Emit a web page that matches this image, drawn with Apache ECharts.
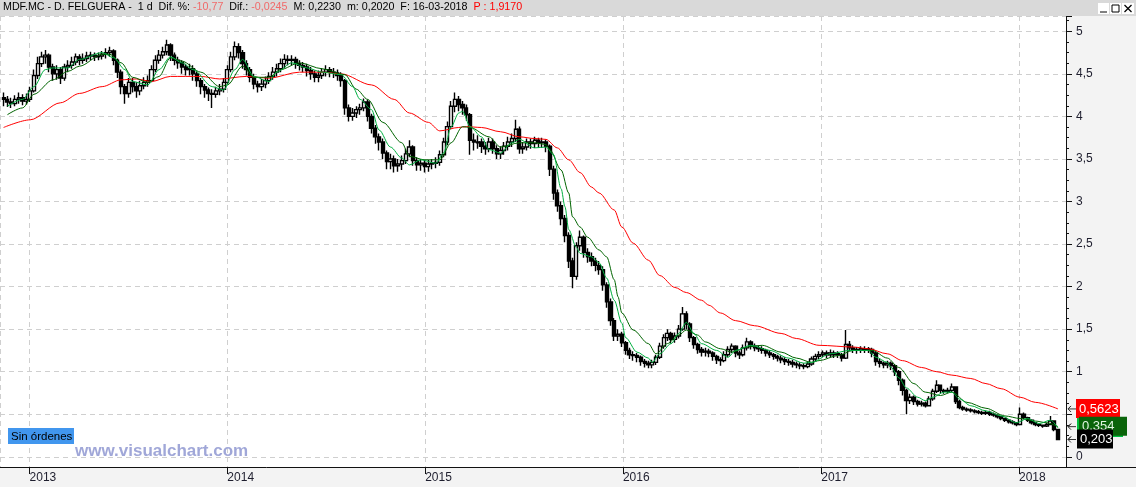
<!DOCTYPE html>
<html><head><meta charset="utf-8">
<script src="https://cdn.jsdelivr.net/npm/echarts@6/dist/echarts.min.js"></script>
<style>html,body{margin:0;padding:0;background:#f3f3f3}#c{width:1136px;height:487px}</style>
</head><body><div id="c"></div>
<script>
// weekly candles [open, close, low, high]; first week centred on 2012-11-14
const firstWeek = [2012, 10, 14];
const w2012 = [[4.22,4.20,4.12,4.28],[4.20,4.17,4.11,4.24],[4.17,4.15,4.10,4.22],[4.15,4.20,4.12,4.25],[4.20,4.22,4.15,4.28],[4.22,4.18,4.13,4.26],[4.18,4.20,4.14,4.27],[4.20,4.30,4.17,4.35]];
const w2013 = [[4.30,4.48,4.28,4.55],[4.48,4.62,4.44,4.70],[4.62,4.70,4.58,4.76],[4.70,4.72,4.62,4.78],[4.72,4.58,4.52,4.74],[4.58,4.50,4.42,4.62],[4.50,4.55,4.43,4.60],[4.55,4.45,4.38,4.58],[4.45,4.58,4.42,4.62],[4.58,4.60,4.52,4.66],[4.60,4.64,4.56,4.70],[4.64,4.70,4.60,4.74],[4.70,4.66,4.60,4.73],[4.66,4.68,4.62,4.74],[4.68,4.71,4.64,4.76],[4.71,4.72,4.66,4.76],[4.72,4.70,4.65,4.75],[4.70,4.71,4.66,4.75],[4.71,4.73,4.67,4.77],[4.73,4.75,4.68,4.80],[4.75,4.77,4.70,4.82],[4.77,4.66,4.60,4.79],[4.66,4.52,4.45,4.68],[4.52,4.35,4.26,4.55],[4.35,4.27,4.15,4.38],[4.27,4.40,4.22,4.45],[4.40,4.35,4.28,4.45],[4.35,4.30,4.22,4.40],[4.30,4.36,4.25,4.42],[4.36,4.40,4.32,4.46],[4.40,4.42,4.35,4.48],[4.42,4.55,4.40,4.60],[4.55,4.66,4.52,4.72],[4.66,4.72,4.62,4.78],[4.72,4.76,4.68,4.82],[4.76,4.84,4.72,4.90],[4.84,4.72,4.65,4.86],[4.72,4.66,4.60,4.75],[4.66,4.63,4.56,4.70],[4.63,4.58,4.50,4.66],[4.58,4.55,4.48,4.62],[4.55,4.56,4.48,4.62],[4.56,4.50,4.42,4.60],[4.50,4.42,4.35,4.53],[4.42,4.35,4.26,4.45],[4.35,4.31,4.22,4.38],[4.31,4.27,4.18,4.34],[4.27,4.26,4.10,4.32],[4.26,4.30,4.22,4.35],[4.30,4.32,4.25,4.38],[4.32,4.40,4.28,4.45],[4.40,4.55,4.38,4.60]];
const w2014 = [[4.55,4.70,4.52,4.76],[4.70,4.82,4.66,4.88],[4.82,4.75,4.68,4.86],[4.75,4.62,4.56,4.78],[4.62,4.55,4.48,4.66],[4.55,4.46,4.40,4.58],[4.46,4.38,4.32,4.50],[4.38,4.35,4.28,4.42],[4.35,4.38,4.30,4.44],[4.38,4.42,4.33,4.47],[4.42,4.47,4.38,4.52],[4.47,4.52,4.43,4.58],[4.52,4.56,4.47,4.62],[4.56,4.62,4.52,4.68],[4.62,4.67,4.57,4.73],[4.67,4.66,4.60,4.72],[4.66,4.67,4.60,4.72],[4.67,4.62,4.56,4.70],[4.62,4.60,4.54,4.66],[4.60,4.58,4.52,4.64],[4.58,4.54,4.47,4.62],[4.54,4.50,4.43,4.58],[4.50,4.46,4.40,4.54],[4.46,4.48,4.40,4.54],[4.48,4.52,4.44,4.57],[4.52,4.55,4.47,4.60],[4.55,4.52,4.46,4.58],[4.52,4.51,4.45,4.57],[4.51,4.48,4.42,4.55],[4.48,4.42,4.35,4.52],[4.42,4.10,4.02,4.44],[4.10,4.00,3.94,4.14],[4.00,4.04,3.95,4.10],[4.04,4.08,3.98,4.12],[4.08,4.10,4.02,4.15],[4.10,4.17,4.06,4.21],[4.17,4.00,3.94,4.20],[4.00,3.86,3.80,4.03],[3.86,3.76,3.68,3.90],[3.76,3.70,3.60,3.80],[3.70,3.57,3.50,3.74],[3.57,3.47,3.38,3.60],[3.47,3.50,3.38,3.56],[3.50,3.42,3.34,3.54],[3.42,3.44,3.35,3.50],[3.44,3.48,3.37,3.54],[3.48,3.56,3.44,3.62],[3.56,3.64,3.52,3.72],[3.64,3.48,3.42,3.66],[3.48,3.43,3.36,3.52],[3.43,3.45,3.36,3.50],[3.45,3.41,3.34,3.49]];
const w2015 = [[3.41,3.44,3.35,3.49],[3.44,3.45,3.38,3.50],[3.45,3.46,3.39,3.52],[3.46,3.55,3.42,3.60],[3.55,3.70,3.52,3.75],[3.70,3.88,3.66,3.94],[3.88,4.12,3.85,4.18],[4.12,4.20,4.05,4.28],[4.20,4.14,4.06,4.24],[4.14,4.10,4.02,4.18],[4.10,4.02,3.95,4.14],[4.02,3.72,3.55,4.04],[3.72,3.70,3.60,3.80],[3.69,3.70,3.62,3.78],[3.70,3.65,3.57,3.74],[3.65,3.62,3.55,3.70],[3.62,3.70,3.58,3.75],[3.70,3.62,3.56,3.74],[3.62,3.56,3.50,3.66],[3.56,3.60,3.50,3.65],[3.60,3.65,3.55,3.70],[3.65,3.70,3.60,3.76],[3.70,3.74,3.64,3.80],[3.74,3.85,3.70,3.96],[3.85,3.62,3.56,3.88],[3.62,3.64,3.56,3.70],[3.64,3.70,3.60,3.74],[3.70,3.68,3.62,3.74],[3.68,3.72,3.63,3.76],[3.72,3.69,3.63,3.75],[3.69,3.70,3.63,3.75],[3.70,3.65,3.58,3.73],[3.65,3.38,3.30,3.67],[3.38,3.10,3.02,3.42],[3.10,2.95,2.88,3.14],[2.95,2.80,2.72,3.00],[2.80,2.60,2.52,2.84],[2.60,2.30,2.22,2.64],[2.30,2.12,1.98,2.34],[2.12,2.48,2.08,2.52],[2.48,2.58,2.42,2.66],[2.58,2.40,2.34,2.60],[2.40,2.35,2.28,2.45],[2.35,2.30,2.24,2.40],[2.30,2.25,2.18,2.34],[2.25,2.20,2.14,2.30],[2.20,2.02,1.95,2.24],[2.02,1.82,1.75,2.05],[1.82,1.60,1.54,1.86],[1.60,1.42,1.36,1.63],[1.42,1.44,1.36,1.50],[1.44,1.34,1.29,1.47]];
const w2016 = [[1.34,1.25,1.20,1.36],[1.25,1.20,1.15,1.28],[1.20,1.19,1.13,1.24],[1.19,1.17,1.11,1.22],[1.17,1.12,1.07,1.19],[1.12,1.10,1.05,1.15],[1.10,1.08,1.04,1.13],[1.08,1.11,1.04,1.14],[1.11,1.17,1.08,1.20],[1.17,1.30,1.15,1.34],[1.30,1.40,1.27,1.44],[1.40,1.45,1.36,1.50],[1.45,1.38,1.33,1.47],[1.38,1.42,1.34,1.46],[1.42,1.50,1.39,1.55],[1.50,1.68,1.48,1.76],[1.68,1.56,1.50,1.71],[1.56,1.40,1.35,1.58],[1.40,1.32,1.27,1.42],[1.32,1.26,1.21,1.34],[1.26,1.23,1.18,1.29],[1.23,1.24,1.18,1.28],[1.24,1.22,1.17,1.27],[1.22,1.18,1.13,1.24],[1.18,1.14,1.09,1.20],[1.14,1.13,1.07,1.17],[1.13,1.20,1.11,1.24],[1.20,1.26,1.17,1.30],[1.26,1.30,1.22,1.33],[1.30,1.22,1.17,1.31],[1.22,1.20,1.15,1.25],[1.20,1.28,1.18,1.32],[1.28,1.35,1.25,1.40],[1.35,1.30,1.26,1.37],[1.30,1.28,1.24,1.33],[1.28,1.27,1.23,1.31],[1.27,1.25,1.21,1.30],[1.25,1.22,1.18,1.27],[1.22,1.20,1.16,1.25],[1.20,1.18,1.14,1.22],[1.18,1.16,1.12,1.20],[1.16,1.14,1.10,1.19],[1.14,1.12,1.08,1.17],[1.12,1.11,1.07,1.15],[1.11,1.09,1.05,1.14],[1.09,1.08,1.04,1.12],[1.08,1.07,1.03,1.11],[1.07,1.06,1.03,1.10],[1.06,1.09,1.04,1.12],[1.09,1.15,1.07,1.18],[1.15,1.18,1.12,1.21],[1.18,1.20,1.15,1.24]];
const w2017 = [[1.20,1.22,1.17,1.25],[1.22,1.20,1.16,1.25],[1.20,1.22,1.17,1.26],[1.22,1.20,1.16,1.25],[1.21,1.20,1.16,1.24],[1.20,1.16,1.12,1.22],[1.16,1.32,1.15,1.49],[1.32,1.28,1.24,1.36],[1.28,1.26,1.22,1.31],[1.26,1.25,1.21,1.29],[1.25,1.27,1.22,1.30],[1.27,1.26,1.22,1.30],[1.27,1.26,1.22,1.29],[1.26,1.22,1.17,1.28],[1.22,1.12,1.07,1.24],[1.12,1.10,1.05,1.15],[1.10,1.08,1.04,1.12],[1.08,1.10,1.04,1.13],[1.10,1.07,1.02,1.12],[1.07,1.00,0.95,1.09],[1.00,0.90,0.84,1.02],[0.90,0.78,0.72,0.92],[0.78,0.66,0.50,0.80],[0.66,0.70,0.62,0.74],[0.70,0.65,0.61,0.72],[0.65,0.62,0.59,0.67],[0.62,0.63,0.59,0.66],[0.63,0.60,0.58,0.65],[0.60,0.68,0.59,0.71],[0.68,0.77,0.66,0.80],[0.77,0.84,0.75,0.90],[0.84,0.78,0.75,0.85],[0.78,0.77,0.74,0.80],[0.77,0.78,0.75,0.81],[0.78,0.82,0.76,0.86],[0.82,0.65,0.62,0.83],[0.65,0.58,0.56,0.67],[0.58,0.56,0.54,0.60],[0.56,0.55,0.53,0.58],[0.55,0.54,0.52,0.57],[0.54,0.53,0.51,0.56],[0.53,0.52,0.50,0.55],[0.52,0.51,0.49,0.54],[0.51,0.52,0.49,0.54],[0.52,0.50,0.48,0.54],[0.50,0.49,0.47,0.52],[0.49,0.47,0.45,0.50],[0.47,0.45,0.43,0.48],[0.45,0.43,0.41,0.46],[0.43,0.41,0.39,0.44],[0.41,0.40,0.38,0.43],[0.40,0.38,0.36,0.41]];
const w2018 = [[0.38,0.50,0.37,0.58],[0.50,0.46,0.44,0.52],[0.46,0.43,0.41,0.47],[0.43,0.40,0.38,0.44],[0.40,0.38,0.36,0.41],[0.38,0.37,0.35,0.39],[0.37,0.36,0.34,0.38],[0.36,0.38,0.35,0.40],[0.38,0.42,0.37,0.48],[0.42,0.32,0.30,0.43],[0.32,0.203,0.195,0.33]];

// moving averages: [week index, value]
const maRed = [[0,3.87],[7,3.96],[15,4.16],[20,4.27],[26,4.35],[31,4.43],[35,4.44],[39,4.41],[44,4.47],[52,4.47],[57,4.44],[64,4.47],[70,4.45],[78,4.52],[84,4.52],[89,4.50],[97,4.37],[103,4.20],[107,4.04],[112,3.93],[115,3.83],[120,3.87],[122,3.88],[126,3.87],[131,3.82],[136,3.76],[140,3.74],[143,3.73],[146,3.63],[149,3.49],[152,3.34],[155,3.17],[157,3.10],[161,2.90],[163,2.70],[166,2.51],[170,2.31],[173,2.13],[177,1.99],[180,1.93],[184,1.84],[186,1.78],[189,1.69],[193,1.60],[198,1.54],[205,1.45],[209,1.39],[215,1.31],[224,1.29],[228,1.27],[233,1.21],[237,1.13],[242,1.05],[246,1.00],[250,0.96],[255,0.92],[259,0.86],[263,0.80],[268,0.70],[272,0.64],[278,0.5623]];
const maDark = [[1,4.02],[5,4.10],[8,4.26],[13,4.43],[17,4.53],[20,4.59],[26,4.73],[28,4.73],[31,4.63],[34,4.46],[38,4.40],[41,4.47],[44,4.69],[47,4.65],[52,4.52],[57,4.35],[59,4.37],[63,4.59],[66,4.46],[70,4.46],[73,4.55],[78,4.63],[84,4.56],[90,4.49],[93,4.32],[96,4.20],[100,3.93],[105,3.69],[107,3.53],[111,3.49],[115,3.49],[118,3.69],[121,3.88],[123,3.87],[128,3.76],[131,3.64],[136,3.69],[140,3.69],[143,3.67],[144,3.61],[147,3.37],[149,3.10],[150,2.82],[152,2.70],[154,2.58],[157,2.43],[159,2.35],[161,2.08],[162,1.88],[163,1.69],[166,1.49],[170,1.33],[172,1.21],[175,1.33],[178,1.43],[180,1.49],[183,1.43],[185,1.35],[189,1.27],[192,1.23],[196,1.29],[200,1.31],[205,1.23],[209,1.16],[213,1.11],[215,1.13],[220,1.19],[224,1.25],[229,1.25],[233,1.16],[236,1.05],[240,0.86],[243,0.76],[247,0.72],[250,0.76],[254,0.64],[259,0.57],[264,0.48],[268,0.45],[272,0.42],[275,0.40],[278,0.354]];
const maLight = [[1,4.12],[5,4.20],[8,4.35],[11,4.55],[13,4.57],[17,4.57],[20,4.67],[26,4.75],[29,4.69],[32,4.55],[34,4.41],[38,4.37],[41,4.55],[44,4.70],[47,4.63],[50,4.55],[55,4.35],[58,4.31],[61,4.55],[63,4.67],[66,4.47],[70,4.41],[72,4.52],[76,4.63],[80,4.57],[84,4.52],[89,4.49],[92,4.35],[94,4.20],[97,4.08],[99,3.84],[102,3.64],[105,3.51],[107,3.43],[110,3.49],[114,3.45],[116,3.57],[118,3.88],[120,4.04],[121,4.06],[123,3.88],[126,3.76],[128,3.61],[131,3.57],[134,3.69],[136,3.73],[140,3.63],[143,3.64],[145,3.55],[147,3.15],[148,2.94],[149,2.67],[151,2.46],[152,2.39],[155,2.35],[157,2.28],[159,2.10],[161,1.84],[163,1.57],[164,1.40],[167,1.23],[170,1.16],[171,1.11],[173,1.21],[176,1.33],[178,1.45],[180,1.58],[182,1.45],[184,1.33],[188,1.25],[191,1.17],[193,1.25],[197,1.31],[202,1.25],[207,1.16],[211,1.10],[213,1.11],[218,1.21],[223,1.25],[228,1.25],[230,1.17],[233,1.11],[234,1.05],[236,0.93],[238,0.81],[241,0.70],[243,0.66],[245,0.70],[248,0.76],[250,0.76],[252,0.68],[255,0.60],[259,0.54],[263,0.48],[267,0.40],[270,0.45],[273,0.39],[276,0.43],[278,0.338]];

const headerParts = {
  name: 'MDF.MC - D. FELGUERA -  1 d  Dif. %: ', difPct: '-10,77', difLbl: '  Dif.: ', dif: '-0,0245',
  rest: '  M: 0,2230  m: 0,2020  F: 16-03-2018  ', p: 'P : 1,9170'
};

function weekDate(i) { return new Date(firstWeek[0], firstWeek[1], firstWeek[2] + 7 * i).getTime(); }
const ohlc = [].concat(w2012, w2013, w2014, w2015, w2016, w2017, w2018);
const candleData = ohlc.map((d, i) => [weekDate(i), d[0], d[1], d[2], d[3]]);
const toLine = arr => arr.map(p => [weekDate(p[0]), p[1]]);
const fmt = v => String(v).replace('.', ',');

const xMin = new Date(2012, 10, 7, 10).getTime();
const xMax = new Date(2018, 2, 28, 17).getTime();
const FONT = 'Liberation Sans, Arial, sans-serif';
const HF = 10.7;

const chart = echarts.init(document.getElementById('c'));
chart.setOption({
  animation: false,
  backgroundColor: '#f3f3f3',
  title: {
    left: 3, top: 2, padding: 0,
    text: '{k|' + headerParts.name + '}{r|' + headerParts.difPct + '}{k|' + headerParts.difLbl + '}{r|' + headerParts.dif + '}{k|' + headerParts.rest + '}{p|' + headerParts.p + '}',
    textStyle: { fontSize: HF, fontWeight: 'normal', fontFamily: FONT, color: '#000',
      rich: { k: { color: '#000', fontSize: HF, fontFamily: FONT }, r: { color: '#f06a6a', fontSize: HF, fontFamily: FONT }, p: { color: '#ff0000', fontSize: HF, fontFamily: FONT } } }
  },
  grid: { left: 0, right: 70, top: 16, bottom: 20, show: true, backgroundColor: '#ffffff', borderWidth: 0 },
  xAxis: {
    type: 'time', min: xMin, max: xMax, splitNumber: 5, minInterval: 360 * 864e5,
    axisLine: { show: true, onZero: false, lineStyle: { color: '#111', width: 1 } },
    axisTick: { show: true, length: 7, lineStyle: { color: '#111' } },
    axisLabel: { align: 'left', margin: 5, color: '#1e1e2e', fontSize: 12, fontFamily: FONT, showMinLabel: false, showMaxLabel: false,
      formatter: v => { const d = new Date(v); return (d.getMonth() === 0 && d.getDate() === 1) ? String(d.getFullYear()) : ''; } },
    splitLine: { show: true, lineStyle: { color: '#cfcfcf', type: [5, 4] } }
  },
  yAxis: {
    type: 'value', position: 'right', min: -0.12, max: 5.18, splitNumber: 10,
    axisLine: { show: true, lineStyle: { color: '#111', width: 1 } },
    axisTick: { show: true, length: 6, lineStyle: { color: '#111' } },
    minorTick: { show: true, splitNumber: 4, length: 3, lineStyle: { color: '#111' } },
    axisLabel: { margin: 10, color: '#1e1e2e', fontSize: 12, fontFamily: FONT, showMinLabel: false, showMaxLabel: false,
      formatter: v => (Math.abs(v * 2 - Math.round(v * 2)) < 1e-6 ? fmt(Math.round(v * 2) / 2) : '') },
    splitLine: { show: true, lineStyle: { color: '#cfcfcf', type: [5, 4] } }
  },
  series: [
    { type: 'candlestick', data: candleData, encode: { x: 0, y: [1, 2, 3, 4] }, barWidth: 3.6,
      itemStyle: { color: '#ffffff', color0: '#000000', borderColor: '#000000', borderColor0: '#000000', borderColorDoji: '#000000', borderWidth: 1.4 } },
    { type: 'line', data: toLine(maRed), showSymbol: false, smooth: 0.3, smoothMonotone: 'x', lineStyle: { color: '#ff0000', width: 1 } },
    { type: 'line', data: toLine(maDark), showSymbol: false, smooth: 0.3, smoothMonotone: 'x', lineStyle: { color: '#006400', width: 1 } },
    { type: 'line', data: toLine(maLight), showSymbol: false, smooth: 0.3, smoothMonotone: 'x', lineStyle: { color: '#00b040', width: 1 } }
  ]
});

const lastRed = maRed[maRed.length - 1][1];
const lastDark = maDark[maDark.length - 1][1];
const lastLight = maLight[maLight.length - 1][1];
const lastClose = w2018[w2018.length - 1][1];
const py = v => chart.convertToPixel({ yAxisIndex: 0 }, v);

function tag(v, x, w, bg, fg, txt, z) {
  const y = py(v);
  return [
    { type: 'rect', z: z, shape: { x: x, y: y - 10, width: w, height: 19 }, style: { fill: bg } },
    { type: 'text', z: z + 1, x: x + 3, y: y, style: { text: txt, fill: fg, font: '13px ' + FONT, textVerticalAlign: 'middle' } }
  ];
}
function arrow(v) {
  const y = py(v);
  return { type: 'polyline', z: 120, shape: { points: [[1076, y], [1068, y], [1071, y - 3], [1068, y], [1071, y + 3]] }, style: { stroke: '#333', fill: null, lineWidth: 1 } };
}

chart.setOption({
  graphic: [
    { type: 'rect', z: 1, shape: { x: 0, y: 0, width: 1136, height: 16 }, style: { fill: '#d9d9d9' } },
    { type: 'rect', z: 2, shape: { x: 1098, y: 3, width: 11, height: 11 }, style: { fill: '#fff' } },
    { type: 'rect', z: 2, shape: { x: 1110, y: 3, width: 11, height: 11 }, style: { fill: '#fff' } },
    { type: 'rect', z: 2, shape: { x: 1122, y: 3, width: 12, height: 11 }, style: { fill: '#fff' } },
    { type: 'line', z: 3, shape: { x1: 1100, y1: 12, x2: 1107, y2: 12 }, style: { stroke: '#000', lineWidth: 1 } },
    { type: 'rect', z: 3, shape: { x: 1112, y: 5, width: 7, height: 7 }, style: { fill: null, stroke: '#000', lineWidth: 1 } },
    { type: 'line', z: 3, shape: { x1: 1124.5, y1: 5, x2: 1131.5, y2: 12 }, style: { stroke: '#000', lineWidth: 1.2 } },
    { type: 'line', z: 3, shape: { x1: 1131.5, y1: 5, x2: 1124.5, y2: 12 }, style: { stroke: '#000', lineWidth: 1.2 } },
    { type: 'line', z: 3, shape: { x1: 1066, y1: 467.5, x2: 1136, y2: 467.5 }, style: { stroke: '#111', lineWidth: 1 } },
    { type: 'rect', z: 50, shape: { x: 8, y: 428, width: 66, height: 16 }, style: { fill: '#4196ee' } },
    { type: 'text', z: 51, x: 11, y: 436.5, style: { text: 'Sin órdenes', fill: '#000', font: '11.5px ' + FONT, textVerticalAlign: 'middle' } },
    { type: 'text', z: 50, x: 75, y: 451, style: { text: 'www.visualchart.com', fill: '#a0a7d8', font: 'bold 17px ' + FONT, textVerticalAlign: 'middle' } },
    ...tag(lastRed, 1076, 44, '#ff0000', '#ffffff', fmt(lastRed), 100),
    ...tag(lastLight, 1077, 46, '#00c040', '#e8ffe8', fmt(lastLight), 102),
    ...tag(lastDark, 1079, 48, '#0a640a', '#e0f5e0', fmt(lastDark), 104),
    ...tag(lastClose, 1077, 36, '#000000', '#ffffff', fmt(lastClose), 106),
    arrow(lastRed), arrow(lastDark), arrow(lastClose)
  ]
});
</script></body></html>
